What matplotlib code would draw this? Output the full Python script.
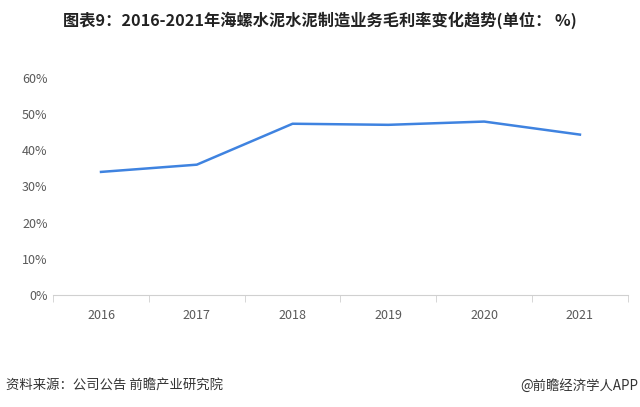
import matplotlib
matplotlib.use("Agg")
import matplotlib.pyplot as plt
from matplotlib.ticker import FuncFormatter

plt.rcParams['font.family'] = ['Noto Sans CJK SC', 'DejaVu Sans']

years = ['2016', '2017', '2018', '2019', '2020', '2021']
margin = [34.0, 36.0, 47.3, 47.0, 47.9, 44.3]

fig = plt.figure(figsize=(6.4, 4.07), dpi=100)
ax = fig.add_axes([0.083, 0.275, 0.898, 0.534])
x = list(range(len(years)))
ax.plot(x, margin, color='#3f83e0', lw=1.8)
ax.set_xlim(-0.5, len(years) - 0.5)
ax.set_ylim(0, 60)
ax.set_yticks(range(0, 61, 10))
ax.yaxis.set_major_formatter(FuncFormatter(lambda v, p: f'{int(v)}%'))
ax.set_xticks(x)
ax.set_xticklabels(years)
ax.set_xticks([i - 0.5 for i in range(len(years) + 1)], minor=True)
for s in ['top', 'right', 'left']:
    ax.spines[s].set_visible(False)
ax.spines['bottom'].set_color('#d0d0d0')
ax.tick_params(axis='y', length=0, labelsize=9, colors='#595959', pad=4)
ax.tick_params(axis='x', which='major', length=0, labelsize=9, colors='#595959', pad=10)
ax.tick_params(axis='x', which='minor', length=5, color='#d0d0d0')

fig.text(0.5, 0.95, '图表9：2016-2021年海螺水泥水泥制造业务毛利率变化趋势(单位： %)',
         ha='center', va='center', fontsize=11.7, fontweight='bold', color='#222222')
fig.text(0.010, 0.053, '资料来源：公司公告 前瞻产业研究院', ha='left', va='center',
         fontsize=9.6, color='#333333')
fig.text(0.998, 0.053, '@前瞻经济学人APP', ha='right', va='center',
         fontsize=9.6, color='#333333')

fig.savefig('out.png', dpi=100)
